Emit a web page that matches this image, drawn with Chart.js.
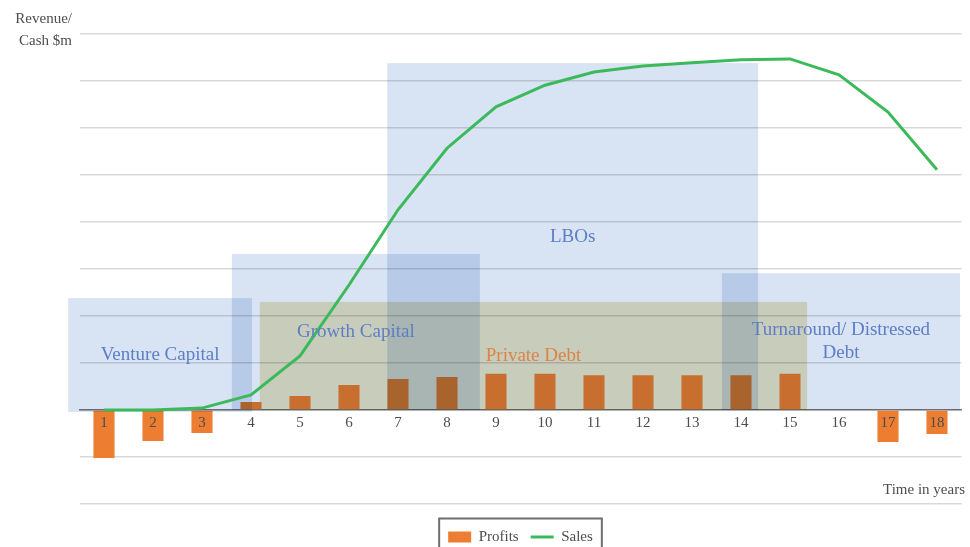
<!DOCTYPE html>
<html>
<head>
<meta charset="utf-8">
<title>Financing stages over the company life cycle</title>
<script src="https://cdn.jsdelivr.net/npm/chart.js@4.4.1/dist/chart.umd.min.js"></script>
<style>
  html, body { margin: 0; padding: 0; background: #ffffff; }
  #wrap { width: 970px; height: 547px; position: relative; }
</style>
</head>
<body>
<div id="wrap"><canvas id="chart" width="970" height="547"></canvas></div>
<script>
// Years of the company life cycle
const years = ['1', '2', '3', '4', '5', '6', '7', '8', '9', '10', '11', '12', '13', '14', '15', '16', '17', '18'];

// Annual profits ($m)
const profits = [-1.02, -0.66, -0.49, 0.17, 0.30, 0.53, 0.66, 0.70, 0.77, 0.77, 0.74, 0.74, 0.74, 0.74, 0.77, 0, -0.68, -0.51];

// Annual sales ($m)
const sales = [0, 0, 0.04, 0.32, 1.15, 2.66, 4.26, 5.57, 6.45, 6.91, 7.19, 7.32, 7.39, 7.45, 7.47, 7.13, 6.34, 5.11];

// Financing stages: name lines, span in years and height in $m
const stageNames = [['Venture Capital'], ['Growth Capital'], ['Private Debt'], ['LBOs'], ['Turnaround/ Distressed', 'Debt']];
const stageFrom = [0.27, 3.61, 4.18, 6.78, 13.61];
const stageTo = [4.02, 8.67, 15.35, 14.35, 18.47];
const stageTop = [2.38, 3.32, 2.30, 7.38, 2.91];
const stageBottom = [-0.04, 0, 0, 0, 0];

const SERIF = '"Liberation Serif", "DejaVu Serif", serif';
const DEBT_STAGE = 2;

function stageRect(chart, i) {
  const xs = chart.scales.x, ys = chart.scales.y;
  const l = xs.getPixelForValue(stageFrom[i] - 1);
  const r = xs.getPixelForValue(stageTo[i] - 1);
  const t = ys.getPixelForValue(stageTop[i]);
  const b = ys.getPixelForValue(stageBottom[i]);
  return { l, t, r, b };
}

function paintStage(chart, i, fill) {
  const ctx = chart.ctx;
  const s = stageRect(chart, i);
  ctx.save();
  ctx.globalCompositeOperation = 'multiply';
  ctx.fillStyle = fill;
  ctx.fillRect(s.l, s.t, s.r - s.l, s.b - s.t);
  ctx.restore();
}

const stagePlugin = {
  id: 'stages',
  beforeDatasetsDraw(chart) {
    // the debt band sits behind the profit bars
    paintStage(chart, DEBT_STAGE, 'rgb(237,229,196)');
  },
  afterDatasetDraw(chart, args) {
    if (args.index !== 0) return;
    // equity bands tint everything underneath them, bars included
    stageNames.forEach((n, i) => {
      if (i !== DEBT_STAGE) paintStage(chart, i, 'rgb(216,227,243)');
    });
  },
  afterDatasetsDraw(chart) {
    const ctx = chart.ctx;
    ctx.save();
    ctx.font = '19px ' + SERIF;
    ctx.textAlign = 'center';
    ctx.textBaseline = 'middle';
    stageNames.forEach((lines, i) => {
      const s = stageRect(chart, i);
      const cx = (s.l + s.r) / 2;
      const cy = (s.t + s.b) / 2;
      ctx.fillStyle = i === DEBT_STAGE ? '#dc8447' : '#5d7ec6';
      const lh = 23;
      lines.forEach((txt, k) => {
        ctx.fillText(txt, cx, cy + (k - (lines.length - 1) / 2) * lh);
      });
    });
    ctx.restore();
  },
  afterDraw(chart) {
    const ctx = chart.ctx;
    ctx.save();
    // axis captions
    ctx.fillStyle = '#4d4d4d';
    ctx.font = '15px ' + SERIF;
    ctx.textBaseline = 'middle';
    ctx.textAlign = 'right';
    ctx.fillText('Revenue/', 72, 19);
    ctx.fillText('Cash $m', 72, 41);
    ctx.fillText('Time in years', 965, 490);
    // frame round the legend
    const hb = chart.legend.legendHitBoxes;
    if (hb && hb.length) {
      const first = hb[0], last = hb[hb.length - 1];
      const l = first.left - 9;
      const r = last.left + last.width + 9;
      const t = first.top - 11;
      ctx.strokeStyle = '#6e6e6e';
      ctx.lineWidth = 2;
      ctx.strokeRect(l, t, r - l, 60);
    }
    ctx.restore();
  }
};

new Chart(document.getElementById('chart'), {
  data: {
    labels: years,
    datasets: [
      {
        type: 'bar',
        label: 'Profits',
        data: profits,
        backgroundColor: '#ed7d31',
        borderColor: '#ed7d31',
        borderWidth: 0,
        barPercentage: 0.43,
        categoryPercentage: 1,
        order: 2
      },
      {
        type: 'line',
        label: 'Sales',
        data: sales,
        borderColor: '#3cb95a',
        backgroundColor: '#3cb95a',
        borderWidth: 3,
        pointRadius: 0,
        tension: 0,
        order: 1
      }
    ]
  },
  options: {
    responsive: false,
    devicePixelRatio: 1,
    animation: false,
    layout: { padding: { left: 79.5, right: 8.5, top: 34, bottom: -7.5 } },
    scales: {
      x: {
        position: { y: 0 },
        offset: true,
        grid: { display: false, drawTicks: false },
        border: { display: true, color: '#7a7a7a', width: 1.5 },
        ticks: { color: '#4d4d4d', font: { family: SERIF, size: 15 }, padding: 4, z: 1 }
      },
      y: {
        min: -2,
        max: 8,
        ticks: { display: false, stepSize: 1 },
        grid: { color: '#d9d9d9', lineWidth: 1.5, drawTicks: false },
        border: { display: false },
        afterFit(s) { s.width = 0; }
      }
    },
    plugins: {
      tooltip: { enabled: false },
      legend: {
        position: 'bottom',
        title: { display: true, text: '', font: { size: 1 }, padding: { top: 12.3, bottom: 0 } },
        labels: {
          font: { family: SERIF, size: 15 },
          color: '#4d4d4d',
          usePointStyle: true,
          pointStyleWidth: 23,
          boxHeight: 11,
          padding: 12,
          generateLabels(chart) {
            return chart.data.datasets.map((ds, i) => ({
              text: ds.label,
              fillStyle: ds.type === 'bar' ? ds.backgroundColor : 'rgba(0,0,0,0)',
              strokeStyle: ds.borderColor,
              lineWidth: ds.type === 'bar' ? 0 : 3,
              pointStyle: ds.type === 'bar' ? 'rect' : 'line',
              fontColor: '#4d4d4d',
              hidden: false,
              datasetIndex: i
            }));
          }
        }
      }
    }
  },
  plugins: [stagePlugin]
});
</script>
</body>
</html>
